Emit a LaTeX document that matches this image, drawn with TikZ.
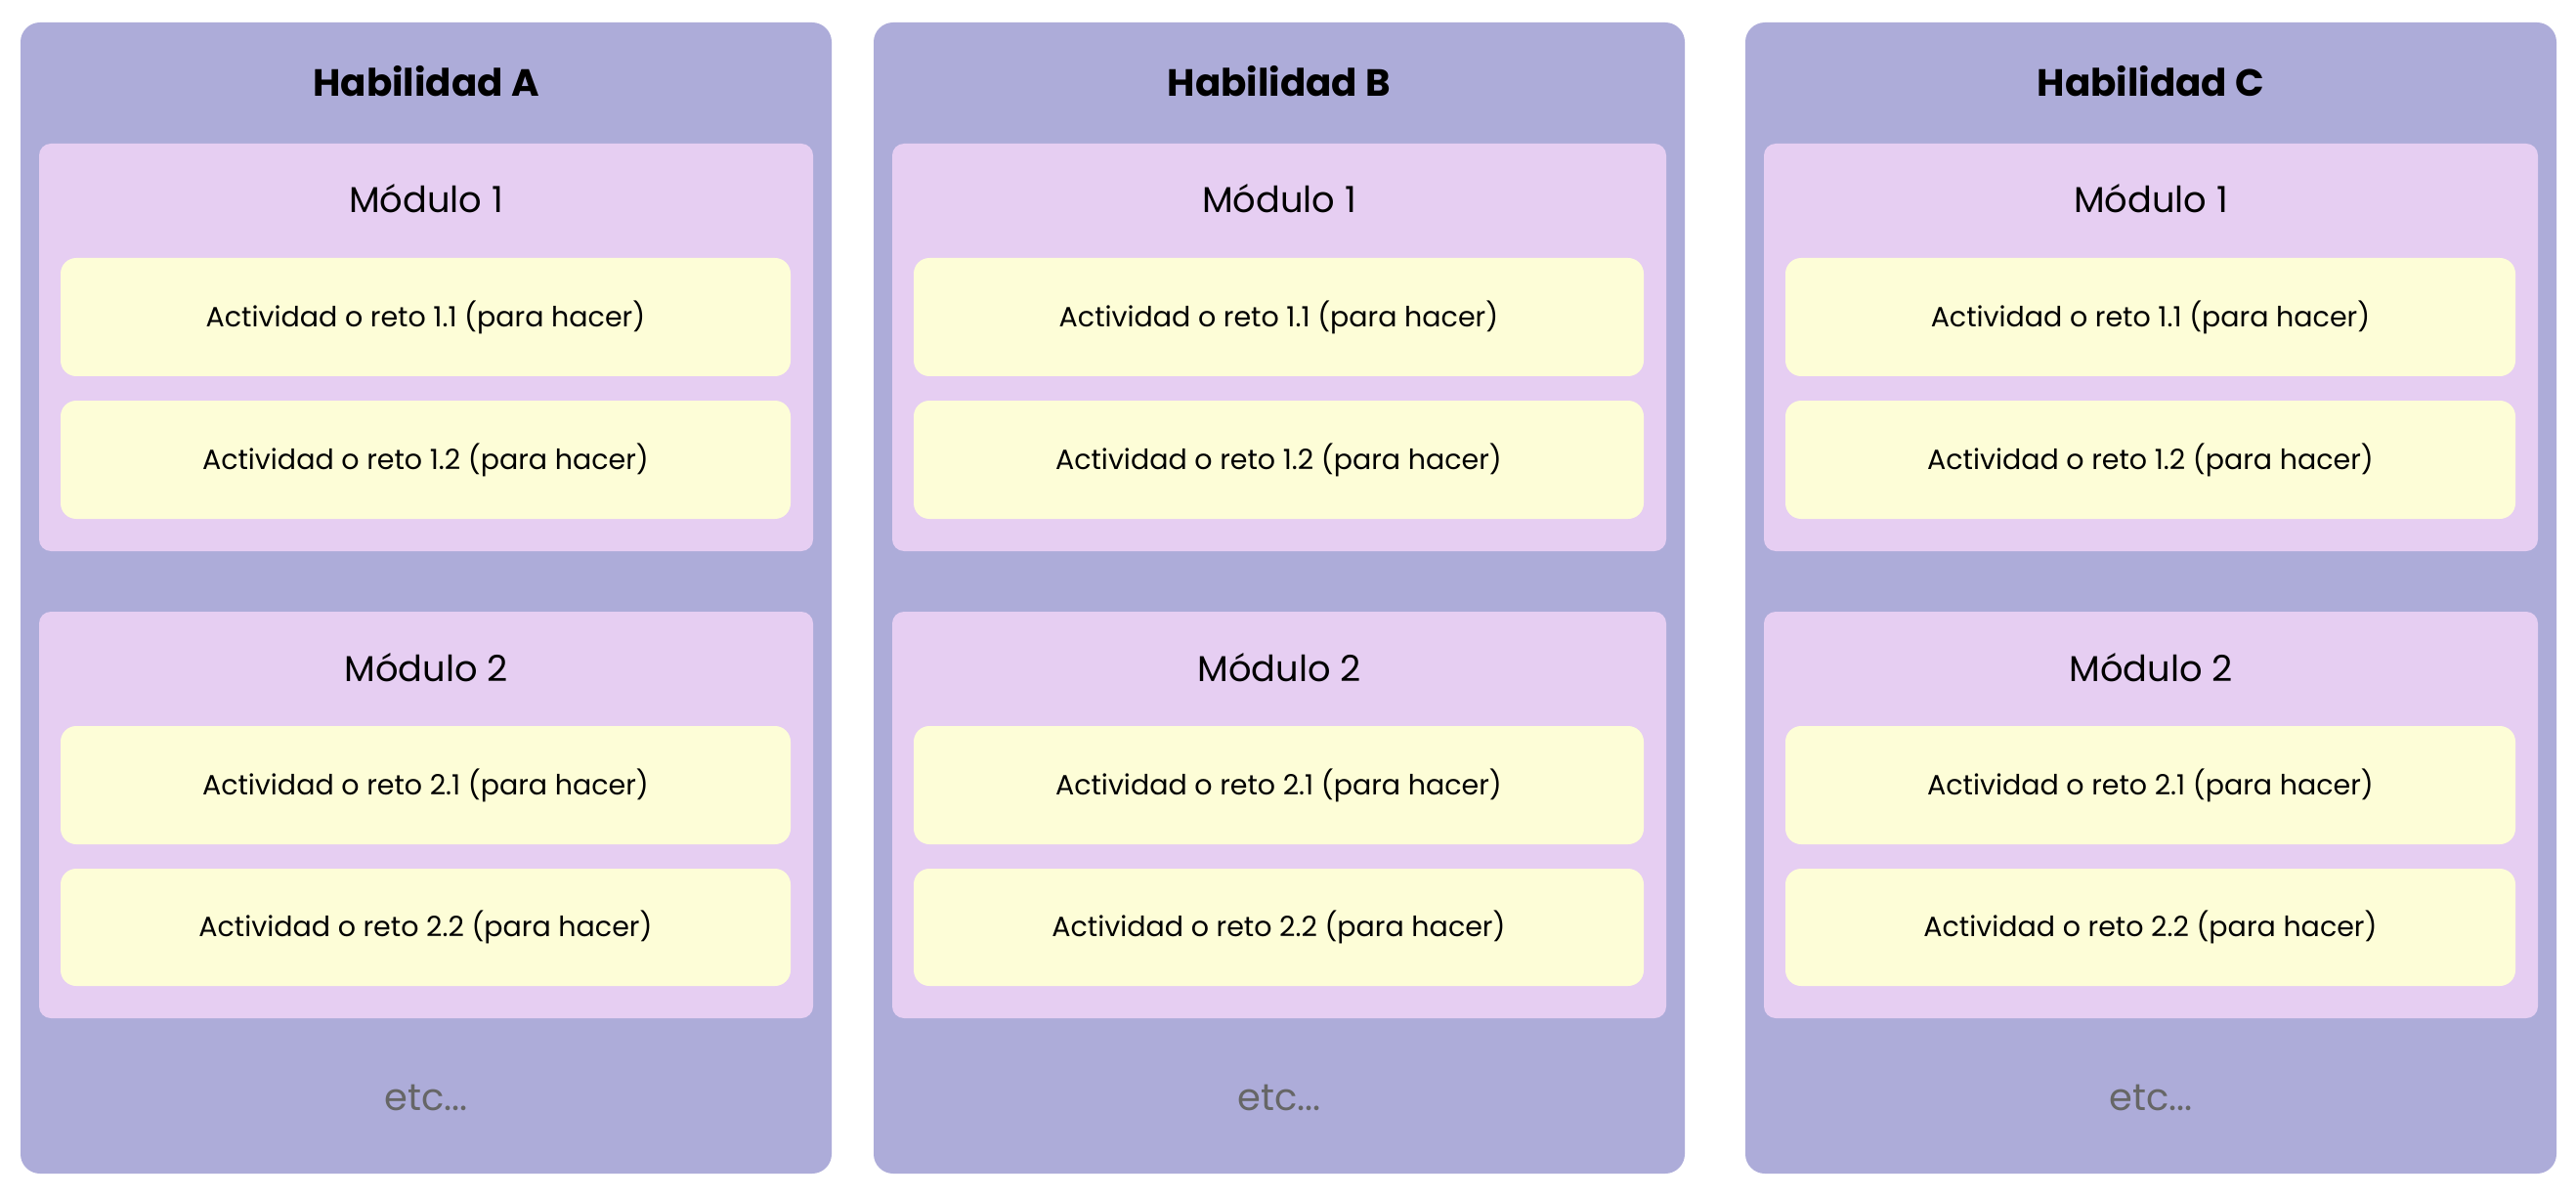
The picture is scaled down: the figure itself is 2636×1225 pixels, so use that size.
\documentclass[tikz,border=0pt]{standalone}
\usepackage{fontspec}
\setmainfont{Poppins}
\definecolor{panelc}{HTML}{ADACD9}
\definecolor{modc}{HTML}{E6CEF2}
\definecolor{actc}{HTML}{FDFDD7}
\definecolor{etcc}{HTML}{666666}
\newcommand\rbox[7]{\node[#2, anchor=north west, inner sep=0pt, outer sep=0pt,
  minimum width={(#5-#3)*0.5pt}, minimum height={(#6-#4)*0.5pt}] (#1) at (#3,#4) {#7};}
\begin{document}
\begin{tikzpicture}[x=0.5pt,y=-0.5pt,
  panelbox/.style={fill=panelc, rounded corners=10pt},
  modbox/.style={fill=modc, rounded corners=6pt},
  actbox/.style={fill=actc, rounded corners=8pt, font=\fontsize{14.25}{17}\selectfont, text=black},
  titletext/.style={font=\fontsize{19.4}{23}\selectfont\bfseries, text=black, inner sep=0pt},
  modtext/.style={font=\fontsize{18.4}{22}\selectfont, text=black, inner sep=0pt},
  etctext/.style={font=\fontsize{19.2}{22}\selectfont, text=etcc, inner sep=0pt}]
\fill[white] (0,0) rectangle (2636,1225);
\useasboundingbox (0,0) rectangle (2636,1225);
\foreach \dx/\l in {0/A,873/B,1765/C}{
  \begin{scope}[xshift={\dx*0.5pt}]
    \rbox{panel\l}{panelbox}{21}{23}{851}{1201}{}
    \node[titletext] (title\l) at (436,83) {Habilidad \l};
    \rbox{mod\l1}{modbox}{40}{147}{832}{564}{}
    \node[modtext] (modt\l1) at (436,203) {Módulo 1};
    \rbox{act\l11}{actbox}{62}{264}{809}{385}{Actividad o reto 1.1 (para hacer)}
    \rbox{act\l12}{actbox}{62}{410}{809}{531}{Actividad o reto 1.2 (para hacer)}
    \rbox{mod\l2}{modbox}{40}{626}{832}{1042}{}
    \node[modtext] (modt\l2) at (436,683) {Módulo 2};
    \rbox{act\l21}{actbox}{62}{743}{809}{864}{Actividad o reto 2.1 (para hacer)}
    \rbox{act\l22}{actbox}{62}{889}{809}{1009}{Actividad o reto 2.2 (para hacer)}
    \node[etctext] (etc\l) at (436,1123) {etc...};
  \end{scope}
}
\end{tikzpicture}
\end{document}
